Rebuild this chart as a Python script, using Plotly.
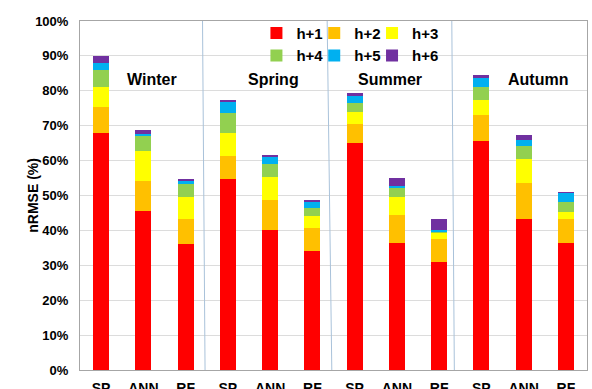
import plotly.graph_objects as go

seasons = ["Winter", "Spring", "Summer", "Autumn"]
models = ["SP", "ANN", "RF"]
horizons = ["h+1", "h+2", "h+3", "h+4", "h+5", "h+6"]
colors = ["#FF0000", "#FFC000", "#FFFF00", "#92D050", "#00B0F0", "#7030A0"]

# segment values (nRMSE %) per horizon, order: Winter SP/ANN/RF, Spring..., Summer..., Autumn...
h1 = [68.0, 45.5, 36.0, 54.7, 40.1, 34.1, 65.1, 36.3, 31.0, 65.6, 43.2, 36.3]
h2 = [7.3, 8.7, 7.2, 6.6, 8.6, 6.5, 5.4, 8.1, 6.4, 7.5, 10.3, 6.9]
h3 = [5.9, 8.6, 6.5, 6.7, 6.5, 3.5, 3.5, 5.3, 1.9, 4.4, 7.1, 2.2]
h4 = [4.8, 4.2, 3.6, 5.5, 3.8, 2.2, 2.4, 2.6, 0.4, 3.7, 3.6, 2.8]
h5 = [2.1, 0.6, 1.1, 3.3, 1.9, 1.9, 2.1, 0.4, 0.4, 2.6, 1.7, 2.6]
h6 = [1.9, 1.2, 0.4, 0.7, 0.7, 0.5, 0.8, 2.2, 3.1, 0.7, 1.3, 0.2]
series = [h1, h2, h3, h4, h5, h6]

tick_labels = [m for s in seasons for m in models]
xpos = list(range(len(tick_labels)))

FONT = "Liberation Sans"
legend_ids = ["legend", "legend2", "legend3"]
fig = go.Figure()
for i, (name, vals, col) in enumerate(zip(horizons, series, colors)):
    fig.add_trace(go.Bar(
        x=xpos, y=vals, name="<b>%s</b>" % name, marker=dict(color=col, line=dict(width=0)),
        width=0.38, legend=legend_ids[i % 3],
    ))

legend_common = dict(orientation="v", xanchor="left", yanchor="top", y=1.012,
                     bgcolor="rgba(0,0,0,0)",
                     font=dict(family=FONT, size=15, color="#000"), itemwidth=30,
                     traceorder="normal", tracegroupgap=0)

fig.update_layout(
    barmode="stack",
    width=592, height=389,
    margin=dict(l=80, r=5, t=21, b=19),
    paper_bgcolor="white", plot_bgcolor="white",
    font=dict(family=FONT, size=13, color="#000000"),
    showlegend=True,
    legend=dict(x=0.348, **legend_common),
    legend2=dict(x=0.462, **legend_common),
    legend3=dict(x=0.576, **legend_common),
)
fig.update_xaxes(
    range=[-0.5, len(tick_labels) - 0.5], tickmode="array", tickvals=xpos,
    ticktext=["<b>%s</b>" % t for t in tick_labels], showgrid=False, showline=True,
    linecolor="#a6a6a6", linewidth=1, mirror=True, ticks="", automargin=False,
    ticklabelstandoff=5,
    tickfont=dict(family=FONT, size=14, color="#000"),
)
fig.update_yaxes(
    range=[0, 100], dtick=10, tickprefix="<b>", ticksuffix="%</b>", showgrid=True,
    gridcolor="#dcdcdc", gridwidth=1, showline=True, linecolor="#a6a6a6", linewidth=1,
    mirror=True, ticks="", automargin=False, ticklabelstandoff=8, zeroline=False,
    tickfont=dict(family=FONT, size=13, color="#000"),
)

# season separators
for x0, x1 in [(2.40, 2.46), (5.35, 5.46), (8.30, 8.36)]:
    fig.add_shape(type="line", xref="x", yref="paper", x0=x0, x1=x1, y0=1, y1=0,
                  line=dict(color="#a9c2da", width=1))

season_x = [1.20, 4.07, 6.84, 10.33]
for s, sx in zip(seasons, season_x):
    fig.add_annotation(x=sx, y=83.1, xref="x", yref="y", text="<b>%s</b>" % s,
                       showarrow=False, font=dict(family=FONT, size=16, color="#000"))

fig.add_annotation(x=-0.114, y=0.5, xref="paper", yref="paper", text="<b>nRMSE (%)</b>",
                   textangle=-90, showarrow=False,
                   font=dict(family=FONT, size=14, color="#000"))

fig.write_html("out.html", config={"displayModeBar": False},
               post_script="document.body.style.margin='0';document.body.style.padding='0';")
